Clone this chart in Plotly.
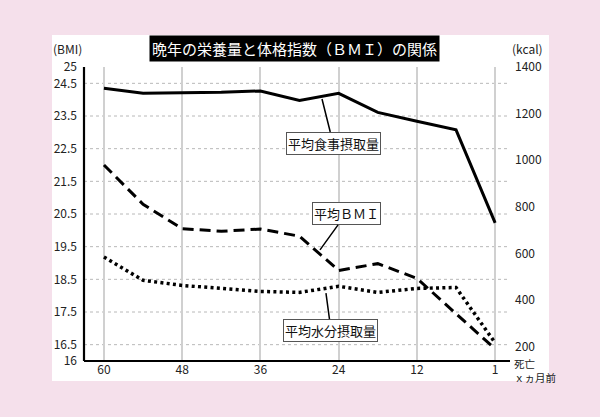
import plotly.graph_objects as go

# months before death (equal spacing on the chart)
months = ["60", "54", "48", "42", "36", "30", "24", "18", "12", "6", "1"]
food_kcal = [1310, 1288, 1290, 1292, 1298, 1257, 1288, 1206, 1168, 1131, 731]
bmi = [22.0, 20.8, 20.05, 19.97, 20.04, 19.82, 18.77, 18.98, 18.53, 17.45, 16.37]
water_kcal = [584, 484, 462, 449, 436, 432, 458, 432, 449, 453, 215]

x_ticks = ["60", "48", "36", "24", "12", "1"]
bmi_ticks = [16, 16.5, 17.5, 18.5, 19.5, 20.5, 21.5, 22.5, 23.5, 24.5, 25]
bmi_ticktext = ["16", "16.5", "17.5", "18.5", "19.5", "20.5", "21.5", "22.5", "23.5", "24.5", "25"]
bmi_grid = [16.5, 17.5, 18.5, 19.5, 20.5, 21.5, 22.5, 23.5, 24.5]
kcal_ticks = [200, 400, 600, 800, 1000, 1200, 1400]

FONT = "Noto Sans CJK JP"
PINK = "#f5e0eb"

fig = go.Figure()
fig.add_trace(go.Scatter(x=months, y=food_kcal, yaxis="y2", mode="lines",
                         line=dict(color="black", width=3), name="平均食事摂取量"))
fig.add_trace(go.Scatter(x=months, y=bmi, yaxis="y", mode="lines",
                         line=dict(color="black", width=3, dash="11px,6px"), name="平均BMI"))
fig.add_trace(go.Scatter(x=months, y=water_kcal, yaxis="y2", mode="lines",
                         line=dict(color="black", width=3.5, dash="3px,3.3px"), name="平均水分摂取量"))

shapes = [dict(type="rect", xref="paper", yref="paper", x0=-0.0751, x1=1.0915, y0=-0.068, y1=1.109,
               fillcolor="white", line=dict(width=0), layer="below")]
for g in bmi_grid:
    shapes.append(dict(type="line", xref="paper", yref="y", x0=0, x1=1, y0=g, y1=g,
                       line=dict(color="#b8b8b8", width=1, dash="dot"), layer="below"))
# axis lines
shapes.append(dict(type="line", xref="paper", yref="paper", x0=0, x1=0, y0=0, y1=1,
                   line=dict(color="black", width=2.2)))
shapes.append(dict(type="line", xref="paper", yref="paper", x0=0, x1=1, y0=0, y1=0,
                   line=dict(color="black", width=2.2)))

def txt(text, x, y, size=12, xanchor="center", **kw):
    d = dict(text=text, xref="paper", yref="paper", x=x, y=y, xanchor=xanchor, yanchor="middle",
             showarrow=False, font=dict(family=FONT, size=size, color=kw.pop("color", "#222")))
    d.update(kw)
    return d

annotations = [
    txt("晩年の栄養量と体格指数（ＢＭＩ）の関係", 0.493, 1.0646, size=15, color="white",
        bgcolor="black", borderpad=2),
    txt("(BMI)", -0.0376, 1.062, borderpad=0),
    txt("(kcal)", 1.042, 1.062, borderpad=0),
    txt("死亡<br>ｘヵ月前", 1.008, -0.033, size=10.5, xanchor="left", align="left", borderpad=0),
]
callouts = [
    ("平均食事摂取量", 0.5587, 0.891, 11, 44),
    ("平均ＢＭＩ", 0.554, 0.378, 26, -36),
    ("平均水分摂取量", 0.568, 0.231, 5, 37),
]
for text, x, y, ax, ay in callouts:
    annotations.append(dict(text=text, xref="paper", yref="paper", x=x, y=y, ax=ax, ay=ay,
                            showarrow=True, arrowhead=0, arrowwidth=1.5, arrowcolor="black",
                            font=dict(family=FONT, size=13, color="#111"), bgcolor="white",
                            bordercolor="#555", borderwidth=1, borderpad=1))

fig.update_layout(
    width=600, height=417,
    margin=dict(l=84, r=90, t=67, b=56),
    paper_bgcolor=PINK, plot_bgcolor="rgba(0,0,0,0)",
    showlegend=False,
    font=dict(family=FONT, size=12, color="#222"),
    xaxis=dict(type="category", categoryorder="array", categoryarray=months,
               range=[-0.51, 10.38], tickmode="array", tickvals=x_ticks, ticktext=x_ticks,
               showgrid=True, gridcolor="#d0d0d0", gridwidth=1.5, showline=False, zeroline=False,
               ticks="", tickfont=dict(family=FONT, size=12, color="#222")),
    yaxis=dict(range=[16, 25], tickmode="array", tickvals=bmi_ticks, ticktext=bmi_ticktext,
               showgrid=False, zeroline=False, showline=False, ticks="", ticklabelstandoff=6,
               tickfont=dict(family=FONT, size=12, color="#222")),
    yaxis2=dict(range=[137, 1401], overlaying="y", side="right", tickmode="array", tickvals=kcal_ticks,
                showgrid=False, zeroline=False, showline=False, ticks="", ticklabelstandoff=4,
                tickfont=dict(family=FONT, size=12, color="#222")),
    shapes=shapes,
    annotations=annotations,
)

fig.write_html("out.html", config={"displayModeBar": False},
               post_script="document.body.style.margin='0';document.body.style.background='%s';" % PINK)
